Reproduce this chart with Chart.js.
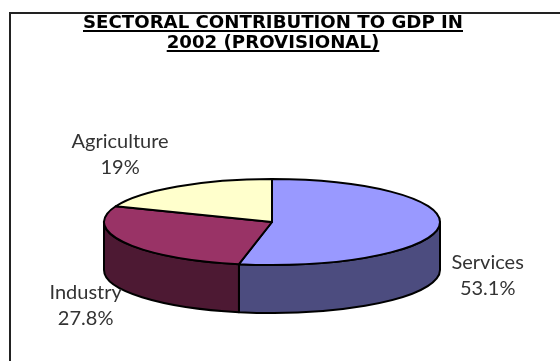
<!DOCTYPE html>
<html>
<head>
<meta charset="utf-8">
<script src="https://cdn.jsdelivr.net/npm/chart.js@4.4.1/dist/chart.umd.min.js"></script>
<style>
  html, body { margin: 0; padding: 0; background: #fff; overflow: hidden; }
</style>
</head>
<body>
<canvas id="gdp-chart" width="560" height="361"></canvas>
<script>
  const titleLines = ['SECTORAL CONTRIBUTION TO GDP IN', '2002 (PROVISIONAL)'];
  const categories = ['Services', 'Industry', 'Agriculture'];
  const shares = [53.1, 27.8, 19];
  const topColors = ['#9999ff', '#993366', '#ffffcc'];
  const sideColors = ['#4c4c7f', '#4d1933', '#80806a'];

  // layout only: how far each label sits from its slice's edge point
  const labelNudge = [[0, 0], [4, 8], [-30, -22]];
  const tilt = 43 / 168;
  const depth = 48;

  const pie3d = {
    id: 'pie3d',
    beforeDraw(chart) {
      const { ctx } = chart;
      ctx.save();
      ctx.fillStyle = '#fff';
      ctx.fillRect(0, 0, chart.width, chart.height);
      ctx.strokeStyle = '#222';
      ctx.lineWidth = 2;
      ctx.strokeRect(10, 13, chart.width + 20, chart.height + 20);
      ctx.restore();
    },
    beforeDatasetsDraw(chart) {
      const { ctx } = chart;
      const arcs = chart.getDatasetMeta(0).data;
      const cx = arcs[0].x;
      const cy = arcs[0].y;
      const rx = arcs[0].outerRadius;
      const ry = rx * tilt;

      ctx.save();
      ctx.lineWidth = 2;
      ctx.strokeStyle = '#000';
      ctx.lineJoin = 'round';

      // outer walls, only the front half is visible
      arcs.forEach((arc, i) => {
        [0, 2 * Math.PI, -2 * Math.PI].forEach((k) => {
          const a = Math.max(arc.startAngle, k);
          const b = Math.min(arc.endAngle, k + Math.PI);
          if (b <= a) return;
          ctx.beginPath();
          ctx.ellipse(cx, cy, rx, ry, 0, a, b);
          ctx.ellipse(cx, cy + depth, rx, ry, 0, b, a, true);
          ctx.closePath();
          ctx.fillStyle = sideColors[i];
          ctx.fill();
          ctx.stroke();
        });
      });

      // top faces
      arcs.forEach((arc, i) => {
        ctx.beginPath();
        ctx.moveTo(cx, cy);
        ctx.ellipse(cx, cy, rx, ry, 0, arc.startAngle, arc.endAngle);
        ctx.closePath();
        ctx.fillStyle = topColors[i];
        ctx.fill();
        ctx.stroke();
      });

      ctx.restore();
      return false;
    },
    afterDraw(chart) {
      const { ctx } = chart;
      const arcs = chart.getDatasetMeta(0).data;
      const cx = arcs[0].x;
      const cy = arcs[0].y;
      const rx = arcs[0].outerRadius;
      const ry = rx * tilt;

      ctx.save();
      // title with underline, squeezed to the reference width
      ctx.font = 'bold 18px "DejaVu Sans", Verdana, sans-serif';
      ctx.fillStyle = '#000';
      ctx.textAlign = 'center';
      ctx.textBaseline = 'alphabetic';
      const fit = 380 / ctx.measureText(titleLines[0]).width;
      titleLines.forEach((line, i) => {
        const y = 28 + i * 20;
        const w = ctx.measureText(line).width * fit;
        ctx.save();
        ctx.translate(273, y);
        ctx.scale(fit, 1);
        ctx.fillText(line, 0, 0);
        ctx.restore();
        ctx.fillRect(273 - w / 2, y + 2, w, 2);
      });

      // slice labels
      ctx.font = '20px Lato, "Noto Sans", sans-serif';
      ctx.fillStyle = '#333';
      arcs.forEach((arc, i) => {
        const mid = (arc.startAngle + arc.endAngle) / 2;
        const s = Math.sin(mid);
        const x = cx + rx * 1.29 * Math.cos(mid) + labelNudge[i][0];
        const y = cy + ry * 1.29 * s + (s > 0 ? depth : 0) + labelNudge[i][1];
        ctx.fillText(categories[i], x, y - 6);
        ctx.fillText(shares[i] + '%', x, y + 20);
      });
      ctx.restore();
    }
  };

  new Chart(document.getElementById('gdp-chart'), {
    type: 'pie',
    data: {
      labels: categories,
      datasets: [{
        data: shares,
        backgroundColor: topColors,
        radius: 168
      }]
    },
    options: {
      responsive: false,
      animation: false,
      layout: { padding: { left: 0, right: 16, top: 100, bottom: 17 } },
      plugins: {
        legend: { display: false },
        tooltip: { enabled: false }
      }
    },
    plugins: [pie3d]
  });
</script>
</body>
</html>
